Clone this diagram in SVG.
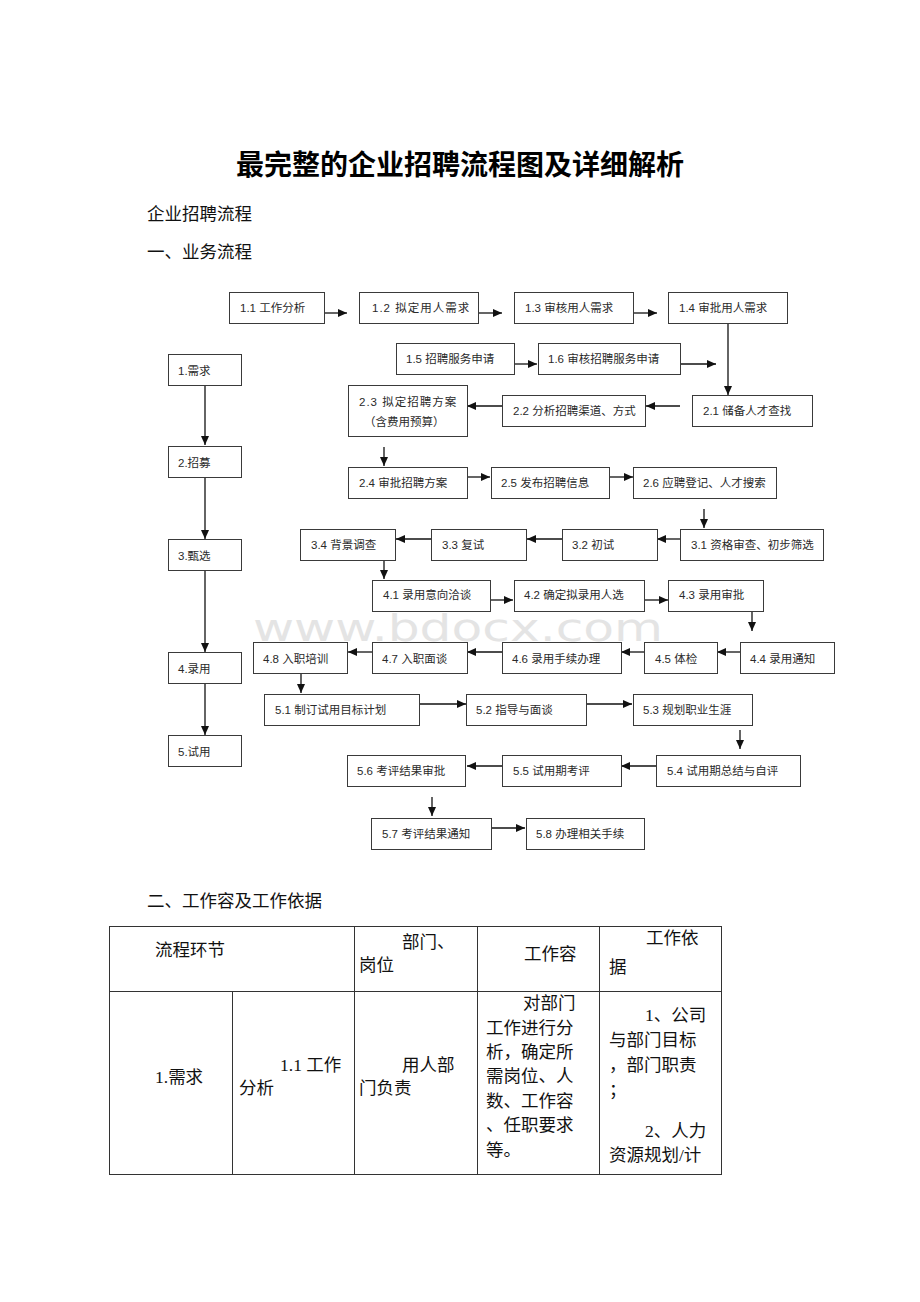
<svg xmlns="http://www.w3.org/2000/svg" width="920" height="1302" viewBox="0 0 920 1302">
<style>
.bg{fill:#ffffff}
.box{fill:none;stroke:#3a3a3a;stroke-width:1}
.lbl{font-family:"Liberation Sans","Noto Sans CJK SC",sans-serif;font-size:11.5px;fill:#2a2a2a}
.edge{stroke:#111;stroke-width:1.3;fill:none;marker-end:url(#ah)}
.doc{font-family:"Liberation Serif","Noto Sans CJK SC",serif;font-size:17.5px;fill:#111}
.title{font-family:"Liberation Serif","Noto Sans CJK SC",serif;font-size:28px;font-weight:bold;fill:#000}
.cell{fill:none;stroke:#333;stroke-width:1}
.wm{font-family:"DejaVu Sans",sans-serif;font-size:38px;fill:#e4e4e4}
</style>
<defs>
<marker id="ah" markerUnits="userSpaceOnUse" markerWidth="9" markerHeight="8" refX="9" refY="4" orient="auto">
<path d="M0,0 L9,4 L0,8 z" fill="#111"/>
</marker>
</defs>
<rect class="bg" x="0" y="0" width="920" height="1302"/>

<g id="headings">
<text class="title" x="460" y="175" text-anchor="middle">最完整的企业招聘流程图及详细解析</text>
<text class="doc" x="147" y="220">企业招聘流程</text>
<text class="doc" x="147" y="258">一、业务流程</text>
<text class="doc" x="147" y="907">二、工作容及工作依据</text>
</g>

<text class="wm" x="253" y="641" textLength="410" lengthAdjust="spacingAndGlyphs">www.bdocx.com</text>

<g id="connectors">
<line class="edge" x1="324" y1="313" x2="347" y2="313"/>
<line class="edge" x1="478" y1="313" x2="502" y2="313"/>
<line class="edge" x1="633" y1="313" x2="657" y2="313"/>
<line class="edge" x1="728" y1="323" x2="728" y2="395"/>
<line class="edge" x1="514" y1="364" x2="537" y2="364"/>
<line class="edge" x1="680" y1="364" x2="716" y2="364"/>
<line class="edge" x1="680" y1="406" x2="646" y2="406"/>
<line class="edge" x1="502" y1="406" x2="467" y2="406"/>
<line class="edge" x1="384" y1="447" x2="384" y2="466"/>
<line class="edge" x1="467" y1="477" x2="490" y2="477"/>
<line class="edge" x1="609" y1="477" x2="633" y2="477"/>
<line class="edge" x1="704" y1="509" x2="704" y2="528"/>
<line class="edge" x1="680" y1="539" x2="657" y2="539"/>
<line class="edge" x1="562" y1="539" x2="527" y2="539"/>
<line class="edge" x1="431" y1="539" x2="396" y2="539"/>
<line class="edge" x1="384" y1="560" x2="384" y2="579"/>
<line class="edge" x1="490" y1="600" x2="513" y2="600"/>
<line class="edge" x1="644" y1="600" x2="668" y2="600"/>
<line class="edge" x1="752" y1="611" x2="752" y2="631"/>
<line class="edge" x1="740" y1="652" x2="717" y2="652"/>
<line class="edge" x1="644" y1="652" x2="621" y2="652"/>
<line class="edge" x1="502" y1="652" x2="467" y2="652"/>
<line class="edge" x1="372" y1="652" x2="348" y2="652"/>
<line class="edge" x1="301" y1="673" x2="301" y2="693"/>
<line class="edge" x1="419" y1="704" x2="466" y2="704"/>
<line class="edge" x1="586" y1="704" x2="632" y2="704"/>
<line class="edge" x1="740" y1="730" x2="740" y2="749"/>
<line class="edge" x1="656" y1="766" x2="621" y2="766"/>
<line class="edge" x1="502" y1="766" x2="467" y2="766"/>
<line class="edge" x1="432" y1="797" x2="432" y2="816"/>
<line class="edge" x1="491" y1="828" x2="525" y2="828"/>
<line class="edge" x1="205" y1="385" x2="205" y2="445"/>
<line class="edge" x1="205" y1="477" x2="205" y2="539"/>
<line class="edge" x1="205" y1="570" x2="205" y2="652"/>
<line class="edge" x1="205" y1="683" x2="205" y2="735"/>
</g>

<g id="s1"><rect class="box" x="168.5" y="354.5" width="73" height="31"/><text class="lbl" x="178" y="375">1.需求</text></g>
<g id="s2"><rect class="box" x="168.5" y="446.5" width="73" height="31"/><text class="lbl" x="178" y="467">2.招募</text></g>
<g id="s3"><rect class="box" x="168.5" y="539.5" width="73" height="31"/><text class="lbl" x="178" y="560">3.甄选</text></g>
<g id="s4"><rect class="box" x="168.5" y="652.5" width="73" height="31"/><text class="lbl" x="178" y="673">4.录用</text></g>
<g id="s5"><rect class="box" x="168.5" y="735.5" width="73" height="31"/><text class="lbl" x="178" y="756">5.试用</text></g>

<g id="n11"><rect class="box" x="229.5" y="292.5" width="95" height="31"/><text class="lbl" x="240" y="312">1.1 工作分析</text></g>
<g id="n12"><rect class="box" x="359.5" y="292.5" width="119" height="31"/><text class="lbl" x="372" y="312" letter-spacing="1">1.2  拟定用人需求</text></g>
<g id="n13"><rect class="box" x="514.5" y="292.5" width="119" height="31"/><text class="lbl" x="525" y="312">1.3 审核用人需求</text></g>
<g id="n14"><rect class="box" x="668.5" y="292.5" width="119" height="31"/><text class="lbl" x="679" y="312">1.4 审批用人需求</text></g>
<g id="n15"><rect class="box" x="396.5" y="343.5" width="118" height="31"/><text class="lbl" x="406" y="363">1.5 招聘服务申请</text></g>
<g id="n16"><rect class="box" x="538.5" y="343.5" width="142" height="31"/><text class="lbl" x="548" y="363">1.6 审核招聘服务申请</text></g>
<g id="n21"><rect class="box" x="692.5" y="395.5" width="120" height="31"/><text class="lbl" x="703" y="415">2.1 储备人才查找</text></g>
<g id="n22"><rect class="box" x="502.5" y="395.5" width="143" height="31"/><text class="lbl" x="513" y="415">2.2 分析招聘渠道、方式</text></g>
<g id="n23"><rect class="box" x="348.5" y="385.5" width="119" height="51"/><text class="lbl" x="359" y="406" letter-spacing="1">2.3 拟定招聘方案</text><text class="lbl" x="364" y="426">（含费用预算）</text></g>
<g id="n24"><rect class="box" x="348.5" y="467.5" width="119" height="31"/><text class="lbl" x="359" y="487">2.4 审批招聘方案</text></g>
<g id="n25"><rect class="box" x="491.5" y="467.5" width="118" height="31"/><text class="lbl" x="501" y="487">2.5 发布招聘信息</text></g>
<g id="n26"><rect class="box" x="633.5" y="467.5" width="143" height="31"/><text class="lbl" x="643" y="487">2.6 应聘登记、人才搜索</text></g>
<g id="n31"><rect class="box" x="680.5" y="529.5" width="143" height="31"/><text class="lbl" x="691" y="549">3.1 资格审查、初步筛选</text></g>
<g id="n32"><rect class="box" x="562.5" y="529.5" width="95" height="31"/><text class="lbl" x="572" y="549">3.2 初试</text></g>
<g id="n33"><rect class="box" x="431.5" y="529.5" width="95" height="31"/><text class="lbl" x="442" y="549">3.3 复试</text></g>
<g id="n34"><rect class="box" x="300.5" y="529.5" width="95" height="31"/><text class="lbl" x="311" y="549">3.4 背景调查</text></g>
<g id="n41"><rect class="box" x="372.5" y="580.5" width="118" height="31"/><text class="lbl" x="383" y="599">4.1 录用意向洽谈</text></g>
<g id="n42"><rect class="box" x="514.5" y="580.5" width="130" height="31"/><text class="lbl" x="524" y="599">4.2 确定拟录用人选</text></g>
<g id="n43"><rect class="box" x="668.5" y="580.5" width="95" height="31"/><text class="lbl" x="679" y="599">4.3 录用审批</text></g>
<g id="n44"><rect class="box" x="740.5" y="642.5" width="94" height="31"/><text class="lbl" x="750" y="663">4.4 录用通知</text></g>
<g id="n45"><rect class="box" x="644.5" y="642.5" width="73" height="31"/><text class="lbl" x="655" y="663">4.5 体检</text></g>
<g id="n46"><rect class="box" x="502.5" y="642.5" width="119" height="31"/><text class="lbl" x="512" y="663">4.6 录用手续办理</text></g>
<g id="n47"><rect class="box" x="372.5" y="642.5" width="95" height="31"/><text class="lbl" x="382" y="663">4.7 入职面谈</text></g>
<g id="n48"><rect class="box" x="253.5" y="642.5" width="94" height="31"/><text class="lbl" x="263" y="663">4.8 入职培训</text></g>
<g id="n51"><rect class="box" x="264.5" y="694.5" width="155" height="31"/><text class="lbl" x="275" y="714">5.1 制订试用目标计划</text></g>
<g id="n52"><rect class="box" x="466.5" y="694.5" width="120" height="31"/><text class="lbl" x="476" y="714">5.2 指导与面谈</text></g>
<g id="n53"><rect class="box" x="633.5" y="694.5" width="119" height="31"/><text class="lbl" x="643" y="714">5.3 规划职业生涯</text></g>
<g id="n54"><rect class="box" x="656.5" y="755.5" width="144" height="31"/><text class="lbl" x="667" y="775">5.4 试用期总结与自评</text></g>
<g id="n55"><rect class="box" x="502.5" y="755.5" width="119" height="31"/><text class="lbl" x="513" y="775">5.5 试用期考评</text></g>
<g id="n56"><rect class="box" x="347.5" y="755.5" width="118" height="31"/><text class="lbl" x="357" y="775">5.6 考评结果审批</text></g>
<g id="n57"><rect class="box" x="371.5" y="818.5" width="120" height="31"/><text class="lbl" x="382" y="838">5.7 考评结果通知</text></g>
<g id="n58"><rect class="box" x="526.5" y="818.5" width="118" height="31"/><text class="lbl" x="536" y="838">5.8 办理相关手续</text></g>

<g id="table">
<rect class="cell" x="109.5" y="926.5" width="612" height="248"/>
<line class="cell" x1="109.5" y1="991.5" x2="721.5" y2="991.5"/>
<line class="cell" x1="232.5" y1="991.5" x2="232.5" y2="1174.5"/>
<line class="cell" x1="354.5" y1="926.5" x2="354.5" y2="1174.5"/>
<line class="cell" x1="477.5" y1="926.5" x2="477.5" y2="1174.5"/>
<line class="cell" x1="599.5" y1="926.5" x2="599.5" y2="1174.5"/>
<text class="doc" x="155" y="956">流程环节</text>
<text class="doc" x="402" y="948">部门、</text>
<text class="doc" x="359" y="971">岗位</text>
<text class="doc" x="524" y="960">工作容</text>
<text class="doc" x="646" y="944">工作依</text>
<text class="doc" x="609" y="973">据</text>
<text class="doc" x="155" y="1083">1.需求</text>
<text class="doc" x="280" y="1071">1.1 工作</text>
<text class="doc" x="239" y="1094">分析</text>
<text class="doc" x="402" y="1071">用人部</text>
<text class="doc" x="359" y="1094">门负责</text>
<text class="doc" x="523" y="1009">对部门</text>
<text class="doc" x="486" y="1034">工作进行分</text>
<text class="doc" x="486" y="1058">析，确定所</text>
<text class="doc" x="486" y="1082">需岗位、人</text>
<text class="doc" x="486" y="1107">数、工作容</text>
<text class="doc" x="486" y="1131">、任职要求</text>
<text class="doc" x="486" y="1156">等。</text>
<text class="doc" x="645" y="1021">1、公司</text>
<text class="doc" x="609" y="1046">与部门目标</text>
<text class="doc" x="609" y="1071">，部门职责</text>
<text class="doc" x="609" y="1096">；</text>
<text class="doc" x="645" y="1137">2、人力</text>
<text class="doc" x="609" y="1161">资源规划/计</text>
</g>
</svg>
